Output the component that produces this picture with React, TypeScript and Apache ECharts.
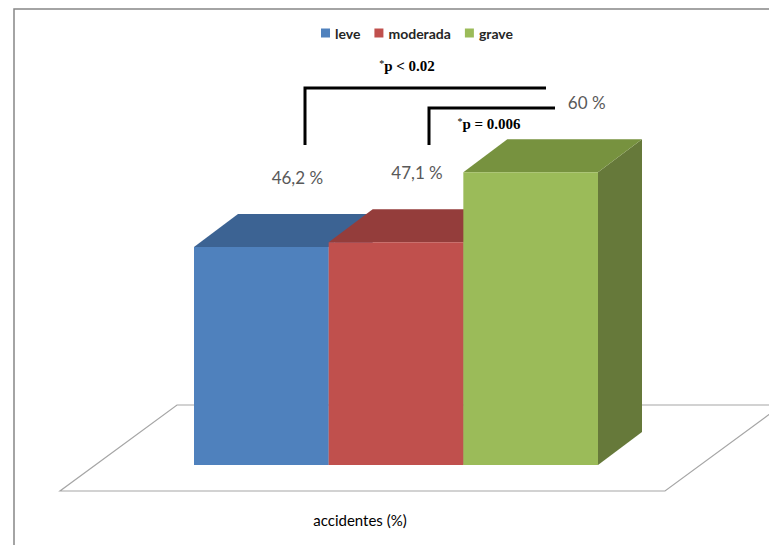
import React, { useEffect, useRef } from "react";
import * as echarts from "echarts";

const categories = ["leve", "moderada", "grave"];
const values = [46.2, 47.1, 60];
const seriesNames = ["leve", "moderada", "grave"];
const axisTitle = "accidentes (%)";
const pLabels = ["p < 0.02", "p = 0.006"];

const FRONT = ["#4F81BD", "#C0504D", "#9BBB59"];
const TOP = ["#3C6393", "#943D3B", "#77923F"];
const SIDE = ["#3A5F8D", "#8C3836", "#66793A"];
const LABEL_DX = [36, 21, 56];
const DEPTH_X = 44;
const DEPTH_Y = 33;
const Y_MIN = 6;
const Y_MAX = 70;
const FONT = "Lato, 'Open Sans', sans-serif";

const fmt = (v: number) => String(v).replace(".", ",") + " %";

export default function App() {
  const ref = useRef<HTMLDivElement>(null);
  useEffect(() => {
    const chart = echarts.init(ref.current!, null, { renderer: "svg" });
    const series = seriesNames.map((name, i) => ({
      name,
      type: "custom",
      z: 2,
      itemStyle: { color: FRONT[i] },
      encode: { x: 0, y: 1 },
      data: [[i, values[i]]],
      renderItem: (params: any, api: any) => {
        const idx = api.value(0);
        const val = api.value(1);
        const top = api.coord([idx, val]);
        const base = api.coord([idx, Y_MIN]);
        const bw = api.size([1, 0])[0];
        const x0 = top[0] - bw / 2;
        const x1 = top[0] + bw / 2;
        const yT = top[1];
        const yB = base[1];
        return {
          type: "group",
          children: [
            {
              type: "polygon",
              shape: { points: [[x1, yB], [x1 + DEPTH_X, yB - DEPTH_Y], [x1 + DEPTH_X, yT - DEPTH_Y], [x1, yT]] },
              style: { fill: SIDE[i] },
            },
            {
              type: "polygon",
              shape: { points: [[x0, yT], [x1, yT], [x1 + DEPTH_X, yT - DEPTH_Y], [x0 + DEPTH_X, yT - DEPTH_Y]] },
              style: { fill: TOP[i] },
            },
            {
              type: "rect",
              shape: { x: x0, y: yT, width: bw, height: yB - yT },
              style: { fill: FRONT[i] },
            },
            {
              type: "text",
              x: top[0] + LABEL_DX[i],
              y: yT - 70,
              style: {
                text: fmt(val),
                fill: "#595959",
                font: `17px ${FONT}`,
                align: "center",
                verticalAlign: "middle",
              },
            },
          ],
        };
      },
    }));

    const pRich = {
      s: { fontSize: 10, fontFamily: "'Liberation Serif', serif", fill: "#000", verticalAlign: "top", padding: [0, 0, 4, 0] },
      t: { fontSize: 15, fontWeight: "bold", fontFamily: "'Liberation Serif', serif", fill: "#000" },
    };

    chart.setOption({
      animation: false,
      backgroundColor: "#ffffff",
      legend: {
        data: seriesNames.map((n) => ({ name: n, icon: "rect" })),
        left: 316,
        top: 21,
        itemWidth: 9,
        itemHeight: 9,
        itemGap: 14,
        textStyle: { fontFamily: FONT, fontSize: 14, fontWeight: "bold", color: "#262626" },
      },
      grid: { left: 194, width: 404, top: 118, height: 347 },
      xAxis: { type: "category", data: categories, show: false, boundaryGap: true },
      yAxis: { type: "value", min: Y_MIN, max: Y_MAX, show: false },
      graphic: [
        {
          type: "rect",
          z: 0,
          shape: { x: 14, y: 9, width: 800, height: 600 },
          style: { fill: "none", stroke: "#878787", lineWidth: 1.5 },
        },
        {
          type: "polygon",
          z: 0,
          shape: { points: [[60, 491], [665, 491], [782, 405], [177, 405]] },
          style: { fill: "#ffffff", stroke: "#a6a6a6", lineWidth: 1.2 },
        },
        {
          type: "polyline",
          z: 5,
          shape: { points: [[305, 145], [305, 88], [546, 88]] },
          style: { fill: "none", stroke: "#000000", lineWidth: 3 },
        },
        {
          type: "polyline",
          z: 5,
          shape: { points: [[429, 145], [429, 108], [555, 108]] },
          style: { fill: "none", stroke: "#000000", lineWidth: 3 },
        },
        {
          type: "text",
          z: 5,
          x: 407,
          y: 66,
          style: { text: "{s|*}{t|" + pLabels[0] + "}", align: "center", verticalAlign: "middle", rich: pRich },
        },
        {
          type: "text",
          z: 5,
          x: 489,
          y: 124,
          style: { text: "{s|*}{t|" + pLabels[1] + "}", align: "center", verticalAlign: "middle", rich: pRich },
        },
        {
          type: "text",
          z: 5,
          x: 360,
          y: 520,
          style: {
            text: axisTitle,
            align: "center",
            verticalAlign: "middle",
            font: `15px ${FONT}`,
            fill: "#000000",
          },
        },
      ],
      series,
    });
    return () => chart.dispose();
  }, []);
  return <div ref={ref} style={{ position: "absolute", left: 0, top: 0, width: 769, height: 545 }} />;
}
